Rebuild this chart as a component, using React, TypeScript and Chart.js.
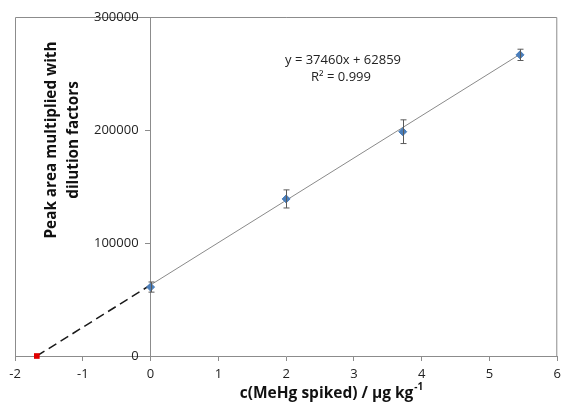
import React, { useEffect, useRef } from "react";
import { Chart, registerables } from "chart.js";

Chart.register(...registerables);

// Data
const spikedX = [0, 2, 3.72, 5.45];
const peakArea = [61000, 139000, 198500, 266500];
const peakErr = [4500, 8000, 10500, 5000];

const slope = 37460;
const intercept = 62859;
const trendX = [0, 5.45];
const xIntercept = -intercept / slope;

const equationLines = ["y = 37460x + 62859", "R² = 0.999"];
const yTitleLines = ["Peak area multiplied with", "dilution factors"];
const xTitle = "c(MeHg spiked) / µg kg";
const xTitleSup = "-1";

const xMin = -2;
const xMax = 6;
const yMin = 0;
const yMax = 300000;
const yStep = 100000;
const xStep = 1;

const FONT = "'Open Sans', 'Liberation Sans', sans-serif";
const AXIS_COLOR = "#8c8c8c";

const decorPlugin = {
  id: "decor",
  beforeDatasetsDraw(chart: any) {
    const { ctx, chartArea } = chart;
    ctx.save();
    ctx.strokeStyle = AXIS_COLOR;
    ctx.lineWidth = 1;
    ctx.beginPath();
    ctx.moveTo(chartArea.left + 0.5, chartArea.bottom);
    ctx.lineTo(chartArea.left + 0.5, chartArea.top + 0.5);
    ctx.lineTo(chartArea.right - 0.5, chartArea.top + 0.5);
    ctx.lineTo(chartArea.right - 0.5, chartArea.bottom);
    ctx.stroke();
    // y tick labels, from the y scale's own ticks, placed left of the crossing axis
    const xs = chart.scales.x;
    const ys = chart.scales.y;
    const axisX = xs.getPixelForValue(0);
    ctx.fillStyle = "#222222";
    ctx.font = `13px ${FONT}`;
    ctx.textAlign = "right";
    ctx.textBaseline = "middle";
    ys.ticks.forEach((t: any) => {
      ctx.fillText(String(t.value), axisX - 12, ys.getPixelForValue(t.value));
    });
    ctx.restore();
  },
  afterDatasetsDraw(chart: any) {
    const { ctx } = chart;
    const xs = chart.scales.x;
    const ys = chart.scales.y;
    ctx.save();
    // error bars
    ctx.strokeStyle = "#5a5a5a";
    ctx.lineWidth = 1;
    spikedX.forEach((xv, i) => {
      const px = Math.round(xs.getPixelForValue(xv)) + 0.5;
      const top = ys.getPixelForValue(peakArea[i] + peakErr[i]);
      const bot = ys.getPixelForValue(peakArea[i] - peakErr[i]);
      ctx.beginPath();
      ctx.moveTo(px, top);
      ctx.lineTo(px, bot);
      ctx.moveTo(px - 3, top);
      ctx.lineTo(px + 3, top);
      ctx.moveTo(px - 3, bot);
      ctx.lineTo(px + 3, bot);
      ctx.stroke();
    });
    // equation
    ctx.fillStyle = "#222222";
    ctx.font = `13px ${FONT}`;
    ctx.textAlign = "center";
    ctx.textBaseline = "middle";
    ctx.fillText(equationLines[0], 343, 60);
    ctx.fillText(equationLines[1], 341, 77);
    // y title
    ctx.save();
    ctx.font = `bold 15.3px ${FONT}`;
    ctx.fillStyle = "#111111";
    ctx.translate(52, 140);
    ctx.rotate(-Math.PI / 2);
    ctx.fillText(yTitleLines[0], 0, 0);
    ctx.fillText(yTitleLines[1], 0, 22);
    ctx.restore();
    // x title
    ctx.font = `bold 15.5px ${FONT}`;
    ctx.fillStyle = "#111111";
    ctx.textAlign = "left";
    const w = ctx.measureText(xTitle).width;
    ctx.font = `bold 10px ${FONT}`;
    const ws = ctx.measureText(xTitleSup).width;
    const startX = 331 - (w + ws) / 2;
    ctx.font = `bold 15.5px ${FONT}`;
    ctx.fillText(xTitle, startX, 394);
    ctx.font = `bold 10px ${FONT}`;
    ctx.fillText(xTitleSup, startX + w + 1, 387);
    ctx.restore();
  },
};

export default function App() {
  const ref = useRef<HTMLCanvasElement | null>(null);
  useEffect(() => {
    if (!ref.current) return;
    const chart = new Chart(ref.current, {
      type: "scatter",
      data: {
        datasets: [
          {
            label: "Samples",
            data: spikedX.map((x, i) => ({ x, y: peakArea[i] })),
            pointStyle: "rectRot",
            pointRadius: 4,
            backgroundColor: "#4a7ebb",
            borderColor: "#4a7ebb",
            borderWidth: 1,
            showLine: false,
          },
          {
            label: "x-intercept",
            data: [{ x: xIntercept, y: 0 }],
            pointStyle: "rect",
            pointRadius: 4,
            backgroundColor: "#e00000",
            borderColor: "#e00000",
            borderWidth: 0,
            showLine: false,
            clip: false as any,
          },
          {
            label: "Trend",
            data: trendX.map((x) => ({ x, y: slope * x + intercept })),
            showLine: true,
            borderColor: "#8a8a8a",
            borderWidth: 1,
            pointRadius: 0,
          },
          {
            label: "Extrapolation",
            data: [
              { x: xIntercept, y: 0 },
              { x: 0, y: intercept },
            ],
            showLine: true,
            borderColor: "#1a1a1a",
            borderWidth: 1.5,
            borderDash: [9, 5],
            pointRadius: 0,
          },
        ],
      },
      options: {
        animation: false,
        responsive: false,
        maintainAspectRatio: false,
        layout: { padding: { left: 15, right: 3, top: 17, bottom: 0 } },
        plugins: { legend: { display: false }, tooltip: { enabled: false } },
        scales: {
          x: {
            type: "linear",
            position: "bottom",
            min: xMin,
            max: xMax,
            ticks: {
              stepSize: xStep,
              color: "#222222",
              font: { family: FONT, size: 13 },
              padding: 5,
              callback: (v: any) => String(v),
            },
            grid: {
              drawOnChartArea: false,
              drawTicks: true,
              tickLength: 5,
              color: AXIS_COLOR,
            },
            border: { color: AXIS_COLOR, width: 1 },
            afterFit: (s: any) => {
              s.height = 46;
            },
          },
          y: {
            type: "linear",
            position: { x: 0 } as any,
            min: yMin,
            max: yMax,
            ticks: {
              display: false,
              stepSize: yStep,
            },
            grid: {
              drawOnChartArea: false,
              drawTicks: true,
              tickLength: 5,
              color: AXIS_COLOR,
            },
            border: { color: AXIS_COLOR, width: 1 },
            afterFit: (s: any) => {
              s.width = 0;
            },
          },
        },
      },
      plugins: [decorPlugin],
    });
    return () => chart.destroy();
  }, []);
  return (
    <div style={{ position: "absolute", left: 0, top: 0, width: 566, height: 402, background: "#fff" }}>
      <canvas ref={ref} width={566} height={402} style={{ width: 566, height: 402, display: "block" }} />
    </div>
  );
}
